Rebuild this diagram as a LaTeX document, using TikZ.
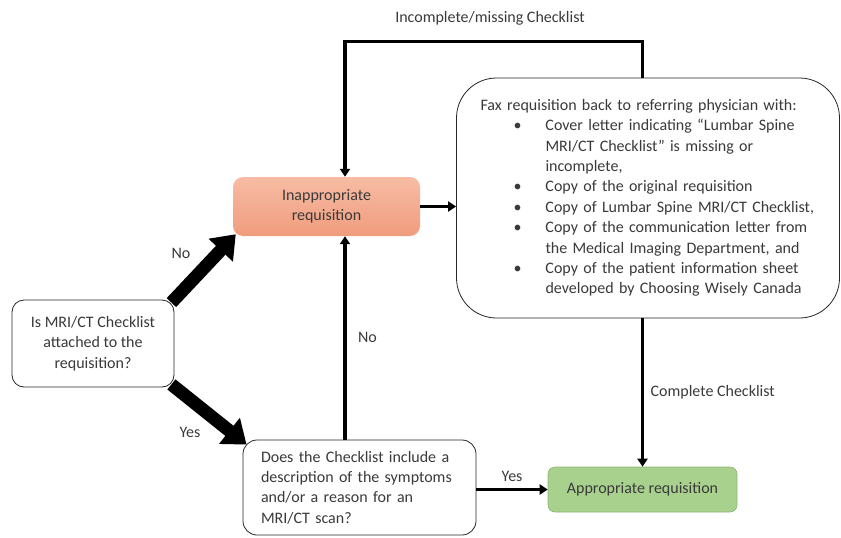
\documentclass[tikz,border=0pt]{standalone}
\usepackage{fontspec}
\setmainfont{Carlito}
\usetikzlibrary{shapes,arrows.meta,positioning,calc}

\definecolor{textgray}{HTML}{3A3A3A}
\definecolor{salmontop}{HTML}{F7BCA4}
\definecolor{salmonbot}{HTML}{F09C7D}
\definecolor{reqgreen}{HTML}{A9D18E}

\newcommand{\faxitem}{\hspace*{33pt}\makebox[32pt][l]{\textbullet}}
\newcommand{\faxcont}{\hspace*{65pt}}

\begin{document}
\begin{tikzpicture}[x=1pt, y=-1pt, >={Triangle[length=8pt,width=10pt]}, text=textgray,
    font=\fontsize{16}{20.4}\selectfont]
\tikzset{
box/.style      = {draw=black!85, line width=0.8pt, shape=rectangle, fill=white, inner sep=0pt, align=center},
reqbox/.style   = {shape=rectangle, inner sep=0pt, align=center},
line/.style     = {->, line width=3.6pt},
fatline/.style  = {-{Triangle[length=22pt,width=32pt]}, line width=13pt},
}
    \useasboundingbox (0,0) rectangle (841,538);

    % Main nodes
    \node [box, rounded corners=12pt, minimum width=162pt, minimum height=87pt]
        (checklist) at (93,343.5) {Is MRI/CT Checklist\\attached to the\\requisition?};
    \node [reqbox, rounded corners=10pt, top color=salmontop, bottom color=salmonbot,
        minimum width=187pt, minimum height=59pt]
        (inappropriate) at (326.5,206.5) {Inappropriate\\requisition};
    \node [box, rounded corners=40pt, minimum width=383pt, minimum height=240pt,
        text width=335pt, align=left]
        (fax) at (648,198) {\hyphenpenalty=10000 Fax requisition back to referring physician with:\\
        \faxitem Cover letter indicating ``Lumbar Spine\\
        \faxcont MRI/CT Checklist'' is missing or\\
        \faxcont incomplete,\\
        \faxitem Copy of the original requisition\\
        \faxitem Copy of Lumbar Spine MRI/CT Checklist,\\
        \faxitem Copy of the communication letter from\\
        \faxcont the Medical Imaging Department, and\\
        \faxitem Copy of the patient information sheet\\
        \faxcont developed by Choosing Wisely Canada};
    \node [box, rounded corners=14pt, minimum width=233pt, minimum height=95pt,
        text width=197pt, align=left]
        (description) at (359.5,487.5) {Does the Checklist include a\\description of the symptoms\\and/or a reason for an\\MRI/CT scan?};
    \node [reqbox, rounded corners=7pt, fill=reqgreen, draw=reqgreen!85!black, line width=0.6pt,
        minimum width=189pt, minimum height=45pt]
        (appropriate) at (642.5,489.5) {Appropriate requisition};

    % Labels
    \node (incomplete) at (490,18)  {Incomplete/missing Checklist};
    \node (nolabel)    at (181,253) {No};
    \node (yeslabel)   at (190,432) {Yes};

    % Main edges
    \draw [line]  (fax.north -| appropriate) -- ++(0,-36) -| ([xshift=18.5pt]inappropriate.north);
    \draw [line]  (inappropriate.east) -- (inappropriate.east -| fax.west);
    \draw [line]  ([xshift=-14.5pt]description.north) -- ([xshift=18.5pt]inappropriate.south)
        node [midway, right=8pt] {No};
    \draw [line]  (description.east |- appropriate.west) -- (appropriate.west)
        node [midway, above=3pt] {Yes};
    \draw [line]  (fax.south -| appropriate) -- (appropriate.north)
        node [midway, right=3pt] {Complete Checklist};

    % Thick edges
    \draw [fatline] ([shift={(-3,3)}]checklist.north east) -- ([shift={(3,-2)}]inappropriate.south west);
    \draw [fatline] ([shift={(-3,-3)}]checklist.south east) -- ([shift={(4,5)}]description.north west);

\end{tikzpicture}
\end{document}
